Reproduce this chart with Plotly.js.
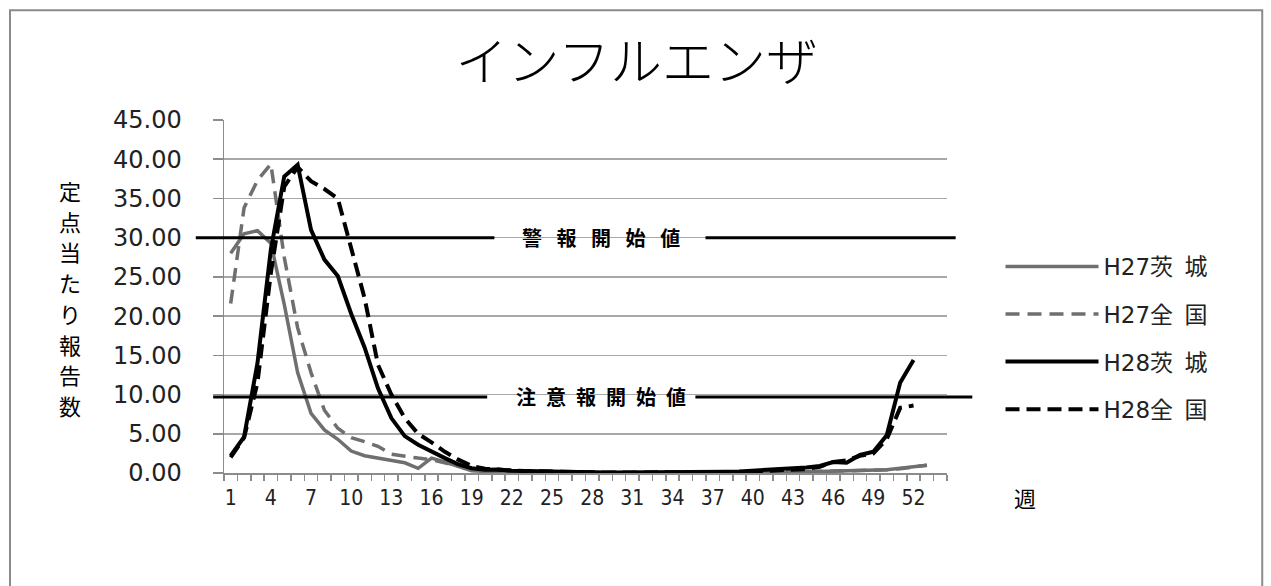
<!DOCTYPE html>
<html><head><meta charset="utf-8">
<script src="https://cdn.plot.ly/plotly-3.0.1.min.js"></script>
<style>html,body{margin:0;padding:0;background:#fff}#chart{width:1271px;height:586px}</style>
</head><body><div id="chart"></div>
<script>
// ---- data ----
const weeksH27 = [1,2,3,4,5,6,7,8,9,10,11,12,13,14,15,16,17,18,19,20,21,22,23,24,25,26,27,28,29,30,31,32,33,34,35,36,37,38,39,40,41,42,43,44,45,46,47,48,49,50,51,52,53];
const weeksH28 = [1,2,3,4,5,6,7,8,9,10,11,12,13,14,15,16,17,18,19,20,21,22,23,24,25,26,27,28,29,30,31,32,33,34,35,36,37,38,39,40,41,42,43,44,45,46,47,48,49,50,51,52];
const h27Ibaraki = [28.0,30.5,30.9,29.3,21.5,12.8,7.6,5.5,4.3,2.8,2.2,1.9,1.6,1.3,0.6,1.9,1.4,0.9,0.3,0.2,0.15,0.1,0.1,0.05,0.05,0.03,0.02,0.02,0.01,0.01,0,0,0,0,0,0,0.01,0.01,0.02,0.02,0.03,0.03,0.04,0.15,0.2,0.2,0.25,0.3,0.35,0.4,0.6,0.8,1.0];
const h27National = [21.6,33.8,37.3,39.4,27.5,18.5,12.8,8.0,5.7,4.5,4.0,3.4,2.4,2.1,1.9,1.7,1.3,0.8,0.5,0.35,0.3,0.25,0.2,0.15,0.12,0.1,0.08,0.06,0.05,0.04,0.03,0.03,0.03,0.03,0.03,0.04,0.05,0.06,0.07,0.08,0.1,0.12,0.14,0.16,0.2,0.24,0.28,0.3,0.35,0.4,0.55,0.8,1.0];
const h28Ibaraki = [2.2,4.6,14.0,28.5,37.8,39.3,31.0,27.2,25.1,20.3,16.0,10.8,7.0,4.7,3.6,2.7,1.9,1.1,0.6,0.4,0.45,0.3,0.25,0.2,0.15,0.12,0.1,0.08,0.06,0.05,0.05,0.04,0.04,0.05,0.06,0.08,0.1,0.15,0.2,0.3,0.35,0.4,0.5,0.7,0.9,1.4,1.3,2.3,2.7,4.8,11.5,14.4];
const h28National = [2.0,4.5,11.5,25.5,36.5,39.0,37.2,36.2,35.0,28.5,22.3,13.8,10.0,7.0,5.0,3.9,2.7,1.7,0.9,0.55,0.4,0.3,0.25,0.2,0.15,0.12,0.1,0.08,0.06,0.05,0.05,0.05,0.05,0.06,0.07,0.08,0.1,0.12,0.15,0.2,0.25,0.3,0.4,0.5,0.8,1.4,1.6,2.2,2.5,4.3,8.3,8.6];
const seriesNames = ['H27茨\u2002城','H27全\u2002国','H28茨\u2002城','H28全\u2002国'];
const xTickVals = [1,4,7,10,13,16,19,22,25,28,31,34,37,40,43,46,49,52];
const thresholdValues = [30, 9.7];
const thresholdLabels = ['警 \u2002報 \u2002開 \u2002始 \u2002値', '注\u2002意\u2002報\u2002開\u2002始\u2002値'];
const chartTitle = 'インフルエンザ';
const yTitleChars = ['定','点','当','た','り','報','告','数'];
const xTitle = '週';

const GRAY = '#6f6f6f', BLACK = '#000000', AXIS = '#8c8c8c';
const latin = '"DejaVu Sans", "Noto Sans CJK JP", sans-serif';
const cjk = '"Noto Sans CJK JP", sans-serif';

const traces = [
  {x: weeksH27, y: h27Ibaraki, name: seriesNames[0], legendgroup:'a', mode:'lines', line:{color:GRAY, width:3.5}},
  {x: weeksH27, y: h27National, name: seriesNames[1], legendgroup:'b', mode:'lines', line:{color:GRAY, width:3.5, dash:'14px,8px'}},
  {x: weeksH28, y: h28Ibaraki, name: seriesNames[2], legendgroup:'c', mode:'lines', line:{color:BLACK, width:4}},
  {x: weeksH28, y: h28National, name: seriesNames[3], legendgroup:'d', mode:'lines', line:{color:BLACK, width:4, dash:'14px,7px'}}
];

const segs = [
  [thresholdValues[0], -0.039, 0.374], [thresholdValues[0], 0.666, 1.012],
  [thresholdValues[1], -0.015, 0.364], [thresholdValues[1], 0.652, 1.035]
];
const shapes = segs.map(s => ({type:'line', xref:'paper', yref:'y', x0:s[1], x1:s[2], y0:s[0], y1:s[0], line:{color:'#000', width:3}, layer:'above'}));
shapes.push({type:'rect', xref:'paper', yref:'paper', x0:-0.296, x1:1.436, y0:-0.5, y1:1.311, line:{color:'#8a8a8a', width:2}, layer:'below'});

const annotations = yTitleChars.map((c, i) => ({
  text:c, xref:'paper', yref:'paper', x:-0.213, y:(473 - (190 + i*30.7))/353,
  xanchor:'center', yanchor:'middle', showarrow:false, font:{family:cjk, size:22, color:'#000'}
}));
annotations.push(
  {text:xTitle, xref:'paper', yref:'paper', x:1.108, y:-0.068, xanchor:'center', yanchor:'middle', showarrow:false, font:{family:cjk, size:22, color:'#000'}},
  {text:'<b>'+thresholdLabels[0]+'</b>', xref:'paper', yref:'y', x:0.5216, y:thresholdValues[0], xanchor:'center', yanchor:'middle', showarrow:false, font:{family:cjk, size:20, color:'#000'}},
  {text:'<b>'+thresholdLabels[1]+'</b>', xref:'paper', yref:'y', x:0.5209, y:thresholdValues[1], xanchor:'center', yanchor:'middle', showarrow:false, font:{family:cjk, size:20, color:'#000'}}
);

const layout = {
  width:1271, height:586,
  margin:{l:224, r:324.3, t:120, b:113},
  paper_bgcolor:'#fff', plot_bgcolor:'#fff',
  title:{text:chartTitle, x:0.501, xref:'container', y:0.893, yref:'container', xanchor:'center', yanchor:'middle', font:{family:cjk, size:52, weight:300, color:'#000'}},
  xaxis:{type:'linear', range:[0.5,54.5], tickvals:xTickVals, ticks:'', showgrid:false, zeroline:false,
         showline:true, linecolor:AXIS, linewidth:1.5, ticklabelstandoff:5,
         minor:{ticks:'outside', tick0:0.5, dtick:1, ticklen:6, tickcolor:AXIS, tickwidth:1.5, showgrid:false},
         tickfont:{family:'"Liberation Sans Narrow", "DejaVu Sans Condensed", sans-serif', size:21, color:'#222'}},
  yaxis:{range:[0,45], dtick:5, tickformat:'.2f', showgrid:true, gridcolor:'#a8a8a8', gridwidth:1.5, zeroline:false,
         showline:true, linecolor:AXIS, linewidth:1.5, ticks:'outside', ticklen:10, tickcolor:AXIS, tickwidth:1.5,
         ticklabelstandoff:26, tickfont:{family:latin, size:24, color:'#222'}},
  legend:{x:1.074, xanchor:'left', y:0.646, yanchor:'top', itemwidth:93, tracegroupgap:14.7, traceorder:'grouped',
          font:{family:latin, size:23, color:'#222'}, bgcolor:'rgba(0,0,0,0)'},
  showlegend:true,
  shapes:shapes,
  annotations:annotations
};
Plotly.newPlot('chart', traces, layout, {staticPlot:true, displayModeBar:false});
</script></body></html>
